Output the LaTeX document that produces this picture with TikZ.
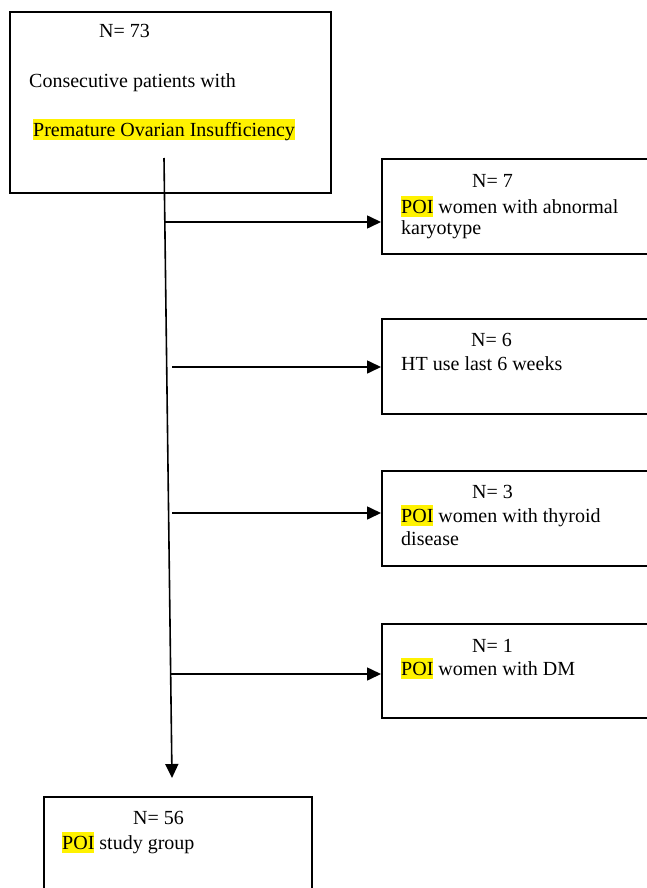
\documentclass[tikz,border=0pt]{standalone}
\usepackage{fontspec}
\setmainfont{Liberation Serif}
\usetikzlibrary{calc}
\usetikzlibrary{arrows.meta}
\tikzset{
  boxNode/.style={%
    rectangle, draw, line width=1.8pt, anchor=north west, inner sep=0pt,
  },
  textNode/.style={%
    anchor=base west, inner sep=0pt, font=\fontsize{20}{23}\selectfont,
  },
  flowArrow/.style={%
    line width=1.6pt, -{Triangle[length=14pt,width=13pt]},
  }
}
\newcommand{\hl}[1]{{\setlength{\fboxsep}{0pt}\colorbox{yellow}{\rule[-4pt]{0pt}{21pt}#1}}}

\begin{document}
\begin{tikzpicture}[x=1pt,y=-1pt]
        \useasboundingbox (0,0) rectangle (646,888);
        % boxes
        \node[boxNode,minimum width=321pt,minimum height=181pt] (total) at (9,11) {};
        \node[boxNode,minimum width=300pt,minimum height=95pt] (karyo) at (381,158) {};
        \node[boxNode,minimum width=300pt,minimum height=95pt] (ht) at (381,318) {};
        \node[boxNode,minimum width=300pt,minimum height=95pt] (thyroid) at (381,470) {};
        \node[boxNode,minimum width=300pt,minimum height=94pt] (dm) at (381,623) {};
        \node[boxNode,minimum width=268pt,minimum height=150pt] (study) at (43,796) {};
        % texts
        \node[textNode] (totalN) at (99,38) {N= 73};
        \node[textNode] (totalA) at (29,88) {Consecutive patients with};
        \node[textNode] (totalB) at (33,136) {\hl{Premature Ovarian Insufficiency}};
        \node[textNode] (karyoN) at (472,187) {N= 7};
        \node[textNode] (karyoA) at (401,213) {\hl{POI} women with abnormal};
        \node[textNode] (karyoB) at (401,234) {karyotype};
        \node[textNode] (htN) at (471,346) {N= 6};
        \node[textNode] (htA) at (401,370) {HT use last 6 weeks};
        \node[textNode] (thyroidN) at (472,498) {N= 3};
        \node[textNode] (thyroidA) at (401,522) {\hl{POI} women with thyroid};
        \node[textNode] (thyroidB) at (401,545) {disease};
        \node[textNode] (dmN) at (472,652) {N= 1};
        \node[textNode] (dmA) at (401,675) {\hl{POI} women with DM};
        \node[textNode] (studyN) at (133,824) {N= 56};
        \node[textNode] (studyA) at (62,849) {\hl{POI} study group};
        % arrows
        \coordinate (spineTop) at (164,158);
        \coordinate (spineEnd) at (172,778);
        \draw[flowArrow] (spineTop) -- (spineEnd);
        \coordinate (branch1) at (165,222);
        \coordinate (branch2) at (172,367);
        \coordinate (branch3) at (172,513);
        \coordinate (branch4) at (171,674);
        \draw[flowArrow] (branch1) -- (branch1 -| karyo.west);
        \draw[flowArrow] (branch2) -- (branch2 -| ht.west);
        \draw[flowArrow] (branch3) -- (branch3 -| thyroid.west);
        \draw[flowArrow] (branch4) -- (branch4 -| dm.west);
      \end{tikzpicture}
\end{document}
